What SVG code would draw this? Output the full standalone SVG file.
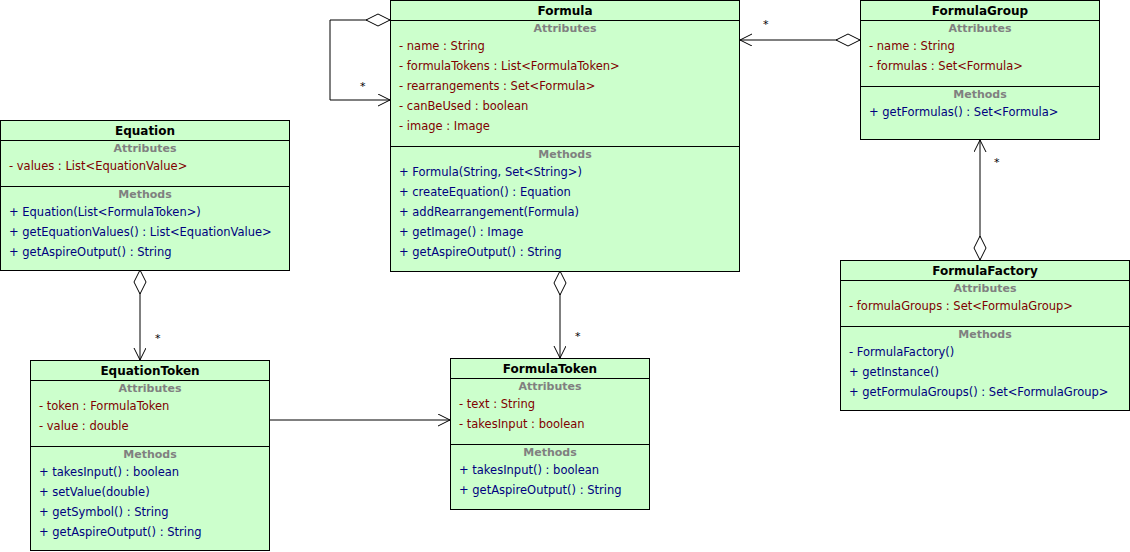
<svg xmlns="http://www.w3.org/2000/svg" width="1130" height="552" viewBox="0 0 1130 552">
<style>
text{font-family:"DejaVu Sans","Liberation Sans",sans-serif;font-size:11.5px}
.box{fill:#ccffcc;stroke:#000;stroke-width:1}
.ln{stroke:#000;stroke-width:1;fill:none}
.t{font-weight:bold;text-anchor:middle;fill:#000;font-size:12px}
.h{font-weight:bold;text-anchor:middle;fill:#808080;font-size:11px}
.a{fill:#800000}
.m{fill:#000080}
.s{fill:#000;font-size:11px}
</style>
<defs>
<marker id="open" markerWidth="14" markerHeight="14" refX="12" refY="6" orient="auto" markerUnits="userSpaceOnUse"><path d="M0,0 L12,6 L0,12" fill="none" stroke="#000"/></marker>
<marker id="dia" markerWidth="26" markerHeight="14" refX="1" refY="7" orient="auto" markerUnits="userSpaceOnUse"><path d="M1,7 L13,1 L25,7 L13,13 Z" fill="#fff" stroke="#000"/></marker>
</defs>
<g id="connectors">
<path class="ln" d="M390,20 L330,20 L330,100 L390,100" marker-start="url(#dia)" marker-end="url(#open)"/>
<text class="s" x="360" y="90">*</text>
<path class="ln" d="M860,40 L740,40" marker-start="url(#dia)" marker-end="url(#open)"/>
<text class="s" x="763" y="28">*</text>
<path class="ln" d="M140,270 L140,360" marker-start="url(#dia)" marker-end="url(#open)"/>
<text class="s" x="155" y="342">*</text>
<path class="ln" d="M560,271 L560,358" marker-start="url(#dia)" marker-end="url(#open)"/>
<text class="s" x="575" y="340">*</text>
<path class="ln" d="M980,260 L980,140" marker-start="url(#dia)" marker-end="url(#open)"/>
<text class="s" x="994" y="166">*</text>
<path class="ln" d="M270,420 L450,420" marker-end="url(#open)"/>
</g>
<g id="Formula">
<rect class="box" x="390.5" y="0.5" width="349" height="271"/>
<path class="ln" d="M390,20.5H740M390,146.5H740"/>
<text class="t" x="565" y="15">Formula</text>
<text class="h" x="565" y="32">Attributes</text>
<text class="a" x="399" y="50">- name : String</text>
<text class="a" x="399" y="70">- formulaTokens : List&lt;FormulaToken&gt;</text>
<text class="a" x="399" y="90">- rearrangements : Set&lt;Formula&gt;</text>
<text class="a" x="399" y="110">- canBeUsed : boolean</text>
<text class="a" x="399" y="130">- image : Image</text>
<text class="h" x="565" y="158">Methods</text>
<text class="m" x="399" y="176">+ Formula(String, Set&lt;String&gt;)</text>
<text class="m" x="399" y="196">+ createEquation() : Equation</text>
<text class="m" x="399" y="216">+ addRearrangement(Formula)</text>
<text class="m" x="399" y="236">+ getImage() : Image</text>
<text class="m" x="399" y="256">+ getAspireOutput() : String</text>
</g>
<g id="FormulaGroup">
<rect class="box" x="860.5" y="0.5" width="239" height="139"/>
<path class="ln" d="M860,20.5H1100M860,86.5H1100"/>
<text class="t" x="980" y="15">FormulaGroup</text>
<text class="h" x="980" y="32">Attributes</text>
<text class="a" x="869" y="50">- name : String</text>
<text class="a" x="869" y="70">- formulas : Set&lt;Formula&gt;</text>
<text class="h" x="980" y="98">Methods</text>
<text class="m" x="869" y="116">+ getFormulas() : Set&lt;Formula&gt;</text>
</g>
<g id="Equation">
<rect class="box" x="0.5" y="120.5" width="289" height="150"/>
<path class="ln" d="M0,140.5H290M0,186.5H290"/>
<text class="t" x="145" y="135">Equation</text>
<text class="h" x="145" y="152">Attributes</text>
<text class="a" x="9" y="170">- values : List&lt;EquationValue&gt;</text>
<text class="h" x="145" y="198">Methods</text>
<text class="m" x="9" y="216">+ Equation(List&lt;FormulaToken&gt;)</text>
<text class="m" x="9" y="236">+ getEquationValues() : List&lt;EquationValue&gt;</text>
<text class="m" x="9" y="256">+ getAspireOutput() : String</text>
</g>
<g id="EquationToken">
<rect class="box" x="30.5" y="360.5" width="239" height="190"/>
<path class="ln" d="M30,380.5H270M30,446.5H270"/>
<text class="t" x="150" y="375">EquationToken</text>
<text class="h" x="150" y="392">Attributes</text>
<text class="a" x="39" y="410">- token : FormulaToken</text>
<text class="a" x="39" y="430">- value : double</text>
<text class="h" x="150" y="458">Methods</text>
<text class="m" x="39" y="476">+ takesInput() : boolean</text>
<text class="m" x="39" y="496">+ setValue(double)</text>
<text class="m" x="39" y="516">+ getSymbol() : String</text>
<text class="m" x="39" y="536">+ getAspireOutput() : String</text>
</g>
<g id="FormulaToken">
<rect class="box" x="450.5" y="358.5" width="199" height="151"/>
<path class="ln" d="M450,378.5H650M450,444.5H650"/>
<text class="t" x="550" y="373">FormulaToken</text>
<text class="h" x="550" y="390">Attributes</text>
<text class="a" x="459" y="408">- text : String</text>
<text class="a" x="459" y="428">- takesInput : boolean</text>
<text class="h" x="550" y="456">Methods</text>
<text class="m" x="459" y="474">+ takesInput() : boolean</text>
<text class="m" x="459" y="494">+ getAspireOutput() : String</text>
</g>
<g id="FormulaFactory">
<rect class="box" x="840.5" y="260.5" width="289" height="150"/>
<path class="ln" d="M840,280.5H1130M840,326.5H1130"/>
<text class="t" x="985" y="275">FormulaFactory</text>
<text class="h" x="985" y="292">Attributes</text>
<text class="a" x="849" y="310">- formulaGroups : Set&lt;FormulaGroup&gt;</text>
<text class="h" x="985" y="338">Methods</text>
<text class="m" x="849" y="356">- FormulaFactory()</text>
<text class="m" x="849" y="376">+ getInstance()</text>
<text class="m" x="849" y="396">+ getFormulaGroups() : Set&lt;FormulaGroup&gt;</text>
</g>
</svg>
